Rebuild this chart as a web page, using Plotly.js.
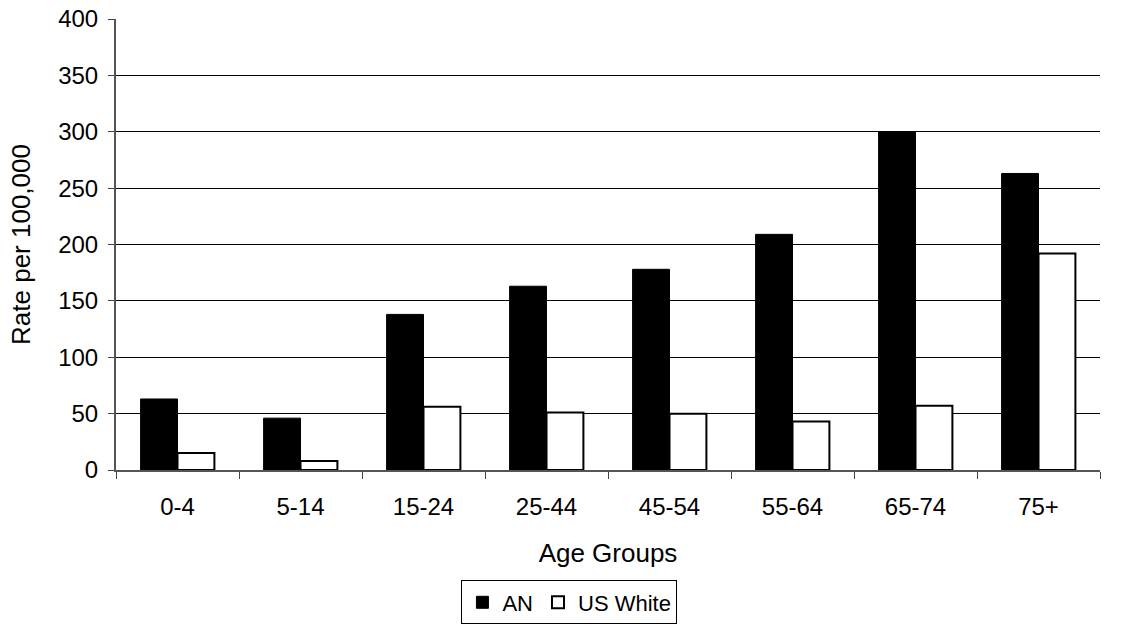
<!DOCTYPE html>
<html><head><meta charset="utf-8">
<script src="https://cdn.plot.ly/plotly-3.0.1.min.js"></script>
<style>body{margin:0;background:#fff}#c{width:1131px;height:643px}</style>
</head><body><div id="c"></div>
<script>
const categories = ["0-4","5-14","15-24","25-44","45-54","55-64","65-74","75+"];
const anValues = [63, 46, 138, 163, 178, 209, 300, 263];
const usWhiteValues = [15, 8, 56, 51, 50, 43, 57, 192];
const yTicks = [0,50,100,150,200,250,300,350,400];

const fam = "Liberation Sans, Arial, sans-serif";
const tickFont = {family: fam, size: 24, color: "#000"};
const titleFont = {family: fam, size: 26, color: "#000"};
const legendFont = {family: fam, size: 22, color: "#000"};
const traces = [
  {type:"bar", name:"AN", x:categories, y:anValues,
   marker:{color:"#000", line:{color:"#000", width:1}}},
  {type:"bar", name:"US White", x:categories, y:usWhiteValues,
   marker:{color:"#fff", line:{color:"#000", width:2}}}
];
const layout = {
  width:1131, height:643,
  margin:{l:116, r:31, t:19, b:172.5, autoexpand:false},
  paper_bgcolor:"#fff", plot_bgcolor:"#fff",
  font: tickFont,
  barmode:"group", bargap:0.4, bargroupgap:0,
  xaxis:{type:"category", tickson:"boundaries", ticks:"outside", ticklen:7, tickcolor:"#444",
    showline:true, linecolor:"#555", linewidth:1.5, showgrid:false, automargin:false,
    ticklabelstandoff:14,
    tickfont:tickFont, title:{text:"Age Groups", font:titleFont, standoff:25}},
  yaxis:{range:[0,400], tickvals:yTicks, ticks:"outside", ticklen:6, tickcolor:"#444",
    showline:true, linecolor:"#555", linewidth:2, gridcolor:"#000", gridwidth:1,
    ticklabelstandoff:5,
    zeroline:false, automargin:false, tickfont:tickFont, title:{text:"Rate per 100,000", font:titleFont, standoff:20}},
  legend:{orientation:"h", x:0.4608, xref:"paper", xanchor:"center", y:-0.245, yanchor:"top",
    bordercolor:"#000", borderwidth:1, font:legendFont, itemwidth:30, tracegroupgap:0},
  showlegend:true
};
Plotly.newPlot("c", traces, layout, {displayModeBar:false});
</script></body></html>
